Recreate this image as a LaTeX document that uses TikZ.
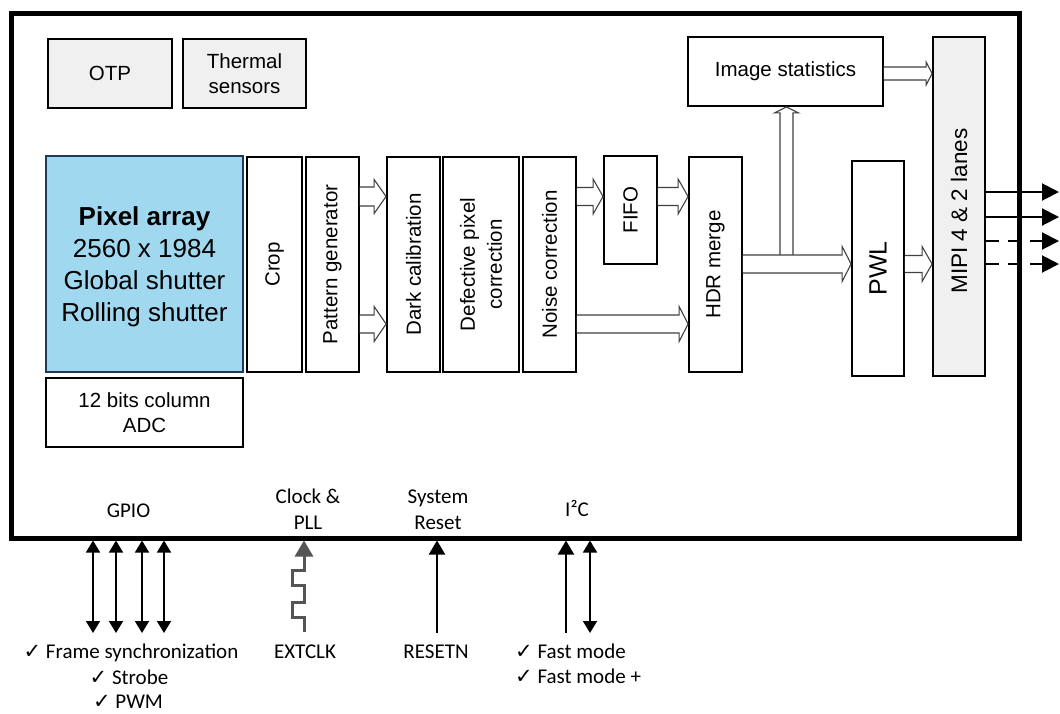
\documentclass[tikz,border=0pt]{standalone}
\usepackage{fontspec}
\setmainfont{Liberation Sans}
\newfontfamily\calfont{Carlito}
\newfontfamily\symfont{DejaVu Sans}
\usetikzlibrary{arrows.meta,calc}

\definecolor{boxgray}{RGB}{240,240,240}
\definecolor{pixblue}{RGB}{160,216,240}
\definecolor{pixedge}{RGB}{31,56,92}
\definecolor{arrowgray}{RGB}{64,64,64}
\definecolor{clkgray}{RGB}{85,85,85}

% block arrow pointing right: start, end, half shaft, half head, head length
\newcommand{\hollowright}[5]{%
  \draw[hollow] let \p1=#1, \p2=#2 in
    (\x1,\y1+#3pt) -- (\x2-#5pt,\y1+#3pt) -- (\x2-#5pt,\y1+#4pt) -- (\x2,\y1)
    -- (\x2-#5pt,\y1-#4pt) -- (\x2-#5pt,\y1-#3pt) -- (\x1,\y1-#3pt);}
% block arrow pointing up: start, end, half shaft, half head, head length
\newcommand{\hollowup}[5]{%
  \draw[hollow] let \p1=#1, \p2=#2 in
    (\x1-#3pt,\y1) -- (\x1-#3pt,\y2-#5pt) -- (\x1-#4pt,\y2-#5pt) -- (\x1,\y2)
    -- (\x1+#4pt,\y2-#5pt) -- (\x1+#3pt,\y2-#5pt) -- (\x1+#3pt,\y1);}
\newcommand{\chk}{{\symfont\fontsize{21}{24}\selectfont ✓}}

\begin{document}
\begin{tikzpicture}[x=1pt,y=-1pt,
  blk/.style={draw=black, line width=1.8pt, inner sep=0pt, fill=white},
  greyblk/.style={blk, fill=boxgray},
  lbl/.style={font=\fontsize{20.5}{25}\selectfont, align=center, inner sep=0pt},
  vlbl/.style={lbl, rotate=90},
  hollow/.style={draw=arrowgray, line width=1.1pt, fill=white, line join=miter},
  bus/.style={line width=2pt, -{Triangle[length=17pt,width=17pt]}},
  pin/.style={line width=1.6pt},
  gtip/.tip={Triangle[length=12pt,width=14pt]},
  pinlbl/.style={font=\calfont\fontsize{21}{25}\selectfont, inner sep=0pt, anchor=base}]

\useasboundingbox (0,0) rectangle (1060,713);
\fill[white] (0,0) rectangle (1060,713);

% sensor outline
\node[draw, line width=5pt, inner sep=0pt, minimum width=1007.5pt, minimum height=524.5pt]
  (chip) at (515.25,275.75) {};

% blocks
\node[greyblk, minimum width=124pt, minimum height=69pt] (otp) at (110,73.5) {};
\node[greyblk, minimum width=123pt, minimum height=69pt] (therm) at (244.5,73.5) {};
\node[blk, fill=pixblue, draw=pixedge, line width=2.4pt, minimum width=197pt, minimum height=216pt] (pix) at (144.5,264) {};
\node[blk, minimum width=197pt, minimum height=69pt] (adc) at (144.5,412.5) {};
\node[blk, minimum width=55pt, minimum height=215pt] (crop) at (274.5,264.5) {};
\node[blk, minimum width=53pt, minimum height=215pt] (pg) at (332.5,264.5) {};
\node[blk, minimum width=53pt, minimum height=215pt] (dc) at (413.5,264.5) {};
\node[blk, minimum width=76pt, minimum height=215pt] (dpc) at (481,264.5) {};
\node[blk, minimum width=53pt, minimum height=215pt] (nc) at (549.5,264.5) {};
\node[blk, minimum width=53pt, minimum height=108pt] (fifo) at (630.5,210) {};
\node[blk, minimum width=53pt, minimum height=215pt] (hdr) at (715.5,264.5) {};
\node[blk, minimum width=195pt, minimum height=69pt] (stats) at (785.5,71.5) {};
\node[blk, minimum width=52pt, minimum height=215pt] (pwl) at (878,268.5) {};
\node[greyblk, minimum width=52pt, minimum height=339pt] (mipi) at (959,206.5) {};

% block labels
\node[lbl] (otp-t) at (otp) {OTP};
\node[lbl] (therm-t) at (therm) {Thermal\\sensors};
\node[lbl, font=\fontsize{26}{32}\selectfont] (pix-t) at ([yshift=-3pt]pix.center)
  {{\bfseries Pixel array}\\2560 x 1984\\Global shutter\\Rolling shutter};
\node[lbl] (adc-t) at (adc) {12 bits column\\ADC};
\node[vlbl] (crop-t) at (crop) {Crop};
\node[vlbl] (pg-t) at (pg) {Pattern generator};
\node[vlbl] (dc-t) at (dc) {Dark calibration};
\node[vlbl, font=\fontsize{20.5}{27}\selectfont] (dpc-t) at (dpc) {Defective pixel\\correction};
\node[vlbl] (nc-t) at (nc) {Noise correction};
\node[vlbl] (fifo-t) at (fifo) {FIFO};
\node[vlbl] (hdr-t) at (hdr) {HDR merge};
\node[lbl] (stats-t) at (stats) {Image statistics};
\node[vlbl, font=\fontsize{25}{30}\selectfont] (pwl-t) at (pwl) {PWL};
\node[vlbl, font=\fontsize{22.5}{27}\selectfont] (mipi-t) at ([yshift=-4.5pt]mipi.center) {MIPI 4 \& 2 lanes};

% data path rows
\coordinate (rA) at (0,196.5);
\coordinate (rB) at (0,324);
\coordinate (rC) at (0,264);
\coordinate (rD) at (0,73.5);
\coordinate (branch) at (786.5,255);

\hollowright{(pg.east |- rA)}{(dc.west |- rA)}{9.5}{17}{12}
\hollowright{(pg.east |- rB)}{(dc.west |- rB)}{9}{17.5}{12}
\hollowright{(nc.east |- rA)}{(fifo.west |- rA)}{9}{17.5}{10}
\hollowright{(fifo.east |- rA)}{(hdr.west |- rA)}{9}{17.5}{10}
\hollowright{(nc.east |- rB)}{(hdr.west |- rB)}{9}{17.5}{9}
\hollowup{(branch)}{(branch |- stats.south)}{6.5}{12}{6}
\hollowright{(hdr.east |- rC)}{(pwl.west |- rC)}{9}{17.5}{9}
\hollowright{(pwl.east |- rC)}{(mipi.west |- rC)}{8.5}{17.5}{10}
\hollowright{(stats.east |- rD)}{(mipi.west |- rD)}{6.5}{11.5}{6}

% MIPI lanes
\coordinate (o1) at (1059,192);
\coordinate (o2) at (1059,217);
\coordinate (o3) at (1059,241);
\coordinate (o4) at (1059,264);
\draw[bus] (mipi.east |- o1) -- (o1);
\draw[bus] (mipi.east |- o2) -- (o2);
\draw[bus, dash pattern=on 13pt off 9pt] (mipi.east |- o3) -- (o3);
\draw[bus, dash pattern=on 13pt off 9pt] (mipi.east |- o4) -- (o4);

% interface labels inside the sensor
\node[pinlbl] (gpio-t) at (128.5,517) {GPIO};
\node[pinlbl] (clk-t1) at (308,503) {Clock \&};
\node[pinlbl] (clk-t2) at (308,529) {PLL};
\node[pinlbl] (rst-t1) at (438,503) {System};
\node[pinlbl] (rst-t2) at (438,529) {Reset};
\node[pinlbl] (i2c-t) at (577,516) {I²C};

% pins
\coordinate (g1) at (93,633);
\coordinate (g2) at (116,633);
\coordinate (g3) at (142,633);
\coordinate (g4) at (164,633);
\foreach \g in {g1,g2,g3,g4}
  \draw[pin, gtip-gtip] (\g) -- (\g |- chip.south);

\coordinate (clk) at (304,632);
\draw[clkgray, line width=3pt, -{Triangle[length=16pt,width=18pt]}]
  (clk) -- ++(0,-15) -- ++(-12,0) -- ++(0,-15) -- ++(12,0) -- ++(0,-17)
  -- ++(-12,0) -- ++(0,-15) -- ++(12,0) -- (clk |- chip.south);

\coordinate (rst) at (437,633);
\draw[pin, line width=2pt, -{Triangle[length=14pt,width=16pt]}] (rst) -- (rst |- chip.south);

\coordinate (scl) at (566,633);
\coordinate (sda) at (590,633);
\draw[pin, line width=2pt, -{Triangle[length=14pt,width=16pt]}] (scl) -- (scl |- chip.south);
\draw[pin, gtip-gtip] (sda) -- (sda |- chip.south);

% pin labels
\node[pinlbl] (gpio-l1) at (131,658) {\chk\ Frame synchronization};
\node[pinlbl] (gpio-l2) at (129,684) {\chk\ Strobe};
\node[pinlbl] (gpio-l3) at (128,708) {\chk\ PWM};
\node[pinlbl] (clk-l) at (305,658) {EXTCLK};
\node[pinlbl] (rst-l) at (436,658) {RESETN};
\node[pinlbl, anchor=base west] (i2c-l1) at (515,658) {\chk\ Fast mode};
\node[pinlbl, anchor=base west] (i2c-l2) at (515,683) {\chk\ Fast mode +};

\end{tikzpicture}
\end{document}
